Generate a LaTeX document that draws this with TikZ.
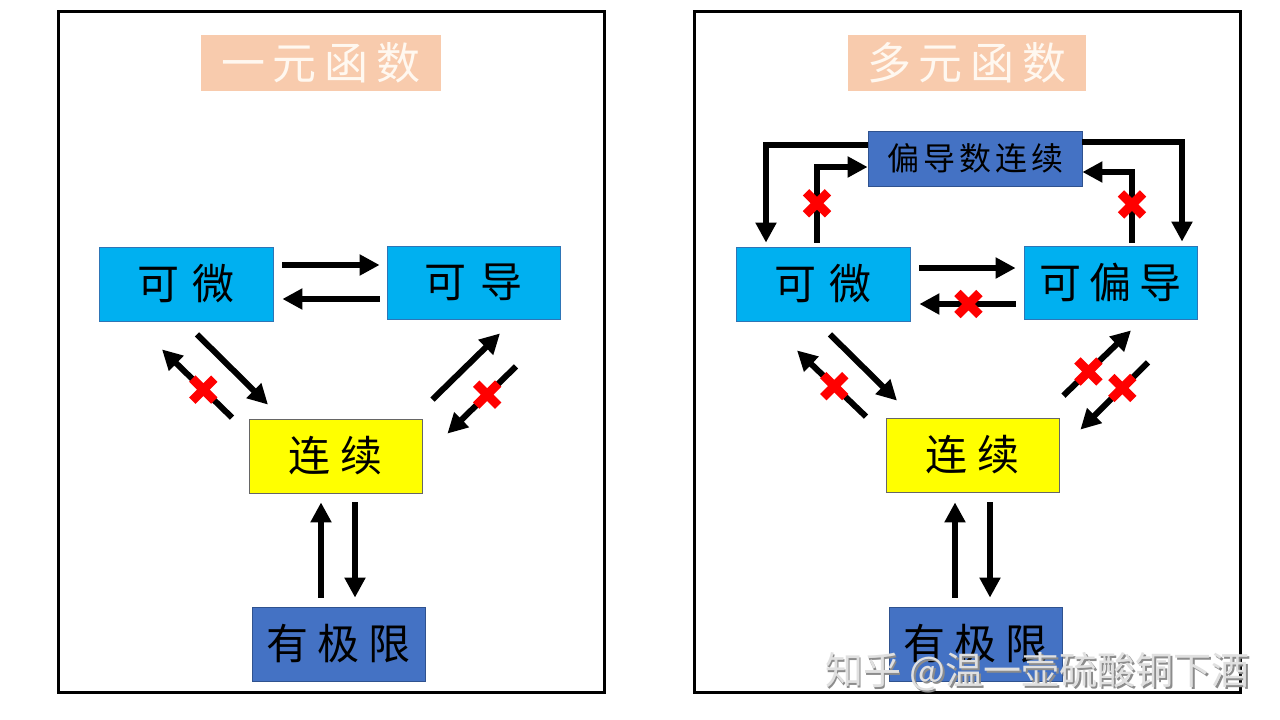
\documentclass[tikz,border=0pt]{standalone}
\usepackage{fontspec}
\newfontfamily\cjk{Noto Sans CJK SC}
\usetikzlibrary{arrows.meta,calc}
\definecolor{cyanbox}{HTML}{00B0F0}
\definecolor{cyanedge}{HTML}{2E75B6}
\definecolor{bluebox}{HTML}{4472C4}
\definecolor{blueedge}{HTML}{2F528F}
\definecolor{yellowbox}{HTML}{FFFF00}
\definecolor{peach}{HTML}{F8CBAD}
\definecolor{titletext}{HTML}{FFF8F0}
\begin{document}
\begin{tikzpicture}[x=1pt,y=-1pt,
  bx/.style={minimum width=174pt, minimum height=74pt, inner sep=0pt,
    font=\cjk\fontsize{42}{42}\selectfont, text=black, line width=0.8pt},
  cyanb/.style={bx, fill=cyanbox, draw=cyanedge},
  yellowb/.style={bx, fill=yellowbox, draw=black!60},
  blueb/.style={bx, fill=bluebox, draw=blueedge},
  titleb/.style={minimum width=240pt, minimum height=56pt, inner sep=0pt,
    fill=peach, text=titletext, font=\cjk\fontsize{44}{44}\selectfont},
  arr/.style={line width=6pt, -{Triangle[length=20pt,width=20pt]}},
  framebox/.style={line width=3pt, draw=black},
  xm/.pic={\draw[red, line width=9pt] (-11,-11) -- (11,11) (-11,11) -- (11,-11);}
]
\useasboundingbox (0,0) rectangle (1280,720);
\fill[white] (0,0) rectangle (1280,720);

% frames
\draw[framebox] (58,11) rectangle (604,692);
\draw[framebox] (694,11) rectangle (1240,692);

% ---------- left panel ----------
\node[titleb] (titleL) at (321,63) {一\hspace{8pt}元\hspace{8pt}函\hspace{8pt}数};
\node[cyanb] (kwL) at (186,284) {可\hspace{14pt}微};
\node[cyanb, minimum width=173pt, minimum height=73pt] (kdL) at (473.5,282.5) {可\hspace{14pt}导};
\node[yellowb, minimum width=173pt] (lxL) at (335.5,456) {连\hspace{10pt}续};
\node[blueb, minimum width=173pt] (jxL) at (338.5,644) {有\hspace{9pt}极\hspace{9pt}限};

\draw[arr] ($(kwL.east)+(9,-19)$) -- ($(kdL.west)+(-7,-17.5)$);
\draw[arr] ($(kdL.west)+(-7,16.5)$) -- ($(kwL.east)+(9,15)$);

\draw[arr] ($(kwL.south)+(11,13)$) -- ($(lxL.north)+(-67.5,-14)$);
\draw[arr] ($(lxL.north)+(-103.5,-1)$) -- coordinate[pos=0.41] (xL1) ($(kwL.south)+(-24,28)$);
\pic at (xL1) {xm};

\draw[arr] ($(lxL.north east)+(10,-19)$) -- ($(kdL.south)+(26.5,14)$);
\draw[arr] ($(kdL.south)+(42.5,47)$) -- coordinate[pos=0.42] (xL2) ($(lxL.north east)+(25,15)$);
\pic at (xL2) {xm};

\draw[arr] ($(jxL.north)+(-17.5,-9)$) -- ($(lxL.south)+(-14.5,9)$);
\draw[arr] ($(lxL.south)+(19.5,9)$) -- ($(jxL.north)+(16.5,-9)$);

% ---------- right panel ----------
\node[titleb, minimum width=238pt] (titleR) at (967,63) {多\hspace{8pt}元\hspace{8pt}函\hspace{8pt}数};
\node[blueb, minimum width=214pt, minimum height=55pt,
  font=\cjk\fontsize{32}{32}\selectfont] (pd) at (975,158.5)
  {偏\hspace{4pt}导\hspace{4pt}数\hspace{4pt}连\hspace{4pt}续};
\node[cyanb] (kwR) at (823,284) {可\hspace{14pt}微};
\node[cyanb, minimum width=173pt, minimum height=73pt] (kpR) at (1110.5,282.5) {可\hspace{8pt}偏\hspace{8pt}导};
\node[yellowb, minimum width=173pt] (lxR) at (972.5,455) {连\hspace{10pt}续};
\node[blueb, minimum width=173pt] (jxR) at (975.5,644) {有\hspace{9pt}极\hspace{9pt}限};

% around the top box
\draw[arr] ($(pd.west)+(0,-13.5)$) -| ($(kwR.north)+(-57,-4)$);
\draw[arr] ($(kwR.north)+(-6,-4)$) |- coordinate[pos=0.26] (xR1) ($(pd.west)+(0,8.5)$);
\pic at (xR1) {xm};
\draw[arr] ($(pd.east)+(0,-16.5)$) -| ($(kpR.north)+(71.5,-4)$);
\draw[arr] ($(kpR.north)+(21.5,-3)$) |- coordinate[pos=0.27] (xR2) ($(pd.east)+(0,13.5)$);
\pic at (xR2) {xm};

% middle
\draw[arr] ($(kwR.east)+(9,-16)$) -- ($(kpR.west)+(-8,-14.5)$);
\draw[arr] ($(kpR.west)+(-8,21.5)$) -- coordinate[pos=0.49] (xR3) ($(kwR.east)+(9,20)$);
\pic at (xR3) {xm};

% diagonals
\draw[arr] ($(kwR.south)+(7,13)$) -- ($(lxR.north)+(-75.5,-17)$);
\draw[arr] ($(lxR.north)+(-106.5,-1)$) -- coordinate[pos=0.46] (xR4) ($(kwR.south)+(-26,29)$);
\pic at (xR4) {xm};
\draw[arr] ($(lxR.north east)+(4,-22)$) -- coordinate[pos=0.37] (xR5) ($(kpR.south)+(20.5,11)$);
\pic at (xR5) {xm};
\draw[arr] ($(kpR.south)+(37.5,43)$) -- coordinate[pos=0.38] (xR6) ($(lxR.north east)+(21,12)$);
\pic at (xR6) {xm};

% vertical
\draw[arr] ($(jxR.north)+(-20.5,-9)$) -- ($(lxR.south)+(-17.5,10)$);
\draw[arr] ($(lxR.south)+(17.5,10)$) -- ($(jxR.north)+(14.5,-9)$);

% watermark
\node[anchor=east, inner sep=0pt, text=black!45, font=\cjk\fontsize{38}{38}\selectfont]
  (wmshadow) at (1251.5,673.5) {知乎 @温一壶硫酸铜下酒};
\node[anchor=east, inner sep=0pt, text=white!88!black, font=\cjk\fontsize{38}{38}\selectfont]
  (wm) at (1250,672) {知乎 @温一壶硫酸铜下酒};
\end{tikzpicture}
\end{document}
